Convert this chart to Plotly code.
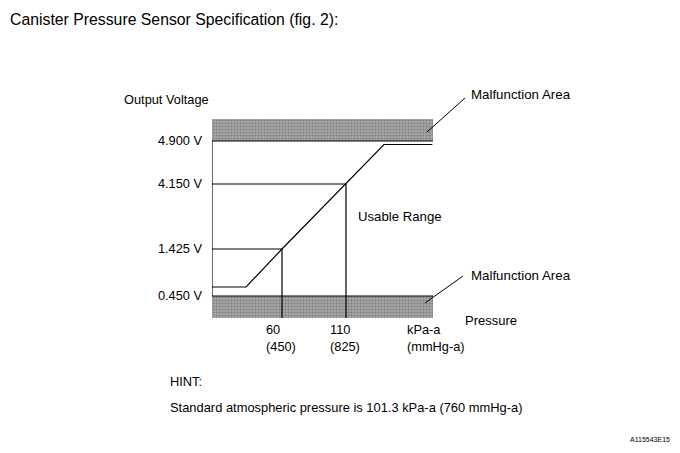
import plotly.graph_objects as go

# ---------------- data ----------------
# y axis of the original is schematic (not to scale): each voltage has a diagram level
voltage_labels = ["0.450 V", "1.425 V", "4.150 V", "4.900 V"]
voltage_levels = [22, 69, 134, 177]          # schematic level of each labelled voltage
band_low = [0, 22]                           # lower malfunction area (levels)
band_high = [177, 199]                       # upper malfunction area (levels)

pressure_range = [5.3, 178]                  # kPa-a, extent of the diagram
curve_pressure = [5.3, 31.9, 60, 110, 139.7, 177.5]   # kPa-a
curve_level = [31, 31, 69, 134, 173.5, 173.5]         # schematic level

marked_pressure_kpa = [60, 110]
marked_pressure_mmhg = ["(450)", "(825)"]
marked_voltage_idx = [1, 2]                  # 60 kPa -> 1.425 V, 110 kPa -> 4.150 V

FONT = "Liberation Sans, Arial, sans-serif"
OFF = 8                                      # page body margin of the html page
W, H = 680 - OFF, 453 - OFF
L, R, T, B = 212 - OFF, 247, 119 - OFF, 135
PW, PH = W - L - R, H - T - B


def px(x):
    return (x - OFF - L) / PW


def py(y):
    return (H - B - (y - OFF)) / PH


fig = go.Figure()

# malfunction bands
for band in (band_low, band_high):
    fig.add_trace(go.Scatter(
        x=[pressure_range[0], pressure_range[1], pressure_range[1], pressure_range[0], pressure_range[0]],
        y=[band[0], band[0], band[1], band[1], band[0]],
        mode="none", fill="toself", fillcolor="#a0a0a0",
        fillpattern=dict(shape=".", bgcolor="#a6a6a6", fgcolor="#555555", size=3, solidity=0.4),
        hoverinfo="skip", showlegend=False))

line_style = dict(color="black", width=1.2)

# band inner edges
for lvl in (band_low[1], band_high[0]):
    fig.add_trace(go.Scatter(x=pressure_range, y=[lvl, lvl], mode="lines",
                             line=line_style, hoverinfo="skip", showlegend=False))

# left axis
fig.add_trace(go.Scatter(x=[pressure_range[0], pressure_range[0]], y=[band_low[1], band_high[0]],
                         mode="lines", line=line_style, hoverinfo="skip", showlegend=False))

# reference lines for marked points
for p, vi in zip(marked_pressure_kpa, marked_voltage_idx):
    lvl = voltage_levels[vi]
    fig.add_trace(go.Scatter(x=[pressure_range[0], p, p], y=[lvl, lvl, band_low[0]],
                             mode="lines", line=line_style, hoverinfo="skip", showlegend=False))

# sensor curve
fig.add_trace(go.Scatter(x=curve_pressure, y=curve_level, mode="lines",
                         line=line_style, hoverinfo="skip", showlegend=False))

ann = []


def text(x, y, s, size=12.8, xanchor="left", xref="paper", yref="paper", xshift=0, align="left"):
    ann.append(dict(x=x, y=y, xref=xref, yref=yref, text=s, showarrow=False,
                    xanchor=xanchor, yanchor="middle", xshift=xshift, align=align,
                    font=dict(family=FONT, size=size, color="black")))


text(px(8), py(19), "Canister Pressure Sensor Specification (fig. 2):", size=15.8)
text(px(122), py(99), "Output Voltage")
text(px(469), py(95), "Malfunction Area", size=13.3)
text(px(469), py(275), "Malfunction Area", size=13.3)
text(px(400), py(216), "Usable Range", xanchor="center", size=13.2)
text(px(463), py(320), "Pressure", size=13)

for p, mm in zip(marked_pressure_kpa, marked_pressure_mmhg):
    ann.append(dict(x=p, y=py(338), xref="x", yref="paper", text=f"{p}<br>{mm}",
                    showarrow=False, xanchor="left", yanchor="middle", xshift=-18, align="left",
                    font=dict(family=FONT, size=12.8, color="black")))
text(px(405), py(338), "kPa-a<br>(mmHg-a)")

text(px(168), py(381), "HINT:")
text(px(168), py(407), "Standard atmospheric pressure is 101.3 kPa-a (760 mmHg-a)", size=12.9)
text(px(672), py(439), "A115543E15", size=7, xanchor="right")

shapes = [
    dict(type="line", xref="paper", yref="paper", x0=px(427), y0=py(132), x1=px(465), y1=py(98),
         line=dict(color="black", width=1)),
    dict(type="line", xref="paper", yref="paper", x0=px(425), y0=py(303), x1=px(463), y1=py(276),
         line=dict(color="black", width=1)),
]

fig.update_layout(
    width=W, height=H,
    margin=dict(l=L, r=R, t=T, b=B, pad=0),
    paper_bgcolor="white", plot_bgcolor="white",
    xaxis=dict(range=pressure_range, showgrid=False, zeroline=False, showline=False,
               showticklabels=False, ticks=""),
    yaxis=dict(range=[band_low[0], band_high[1]], showgrid=False, zeroline=False, showline=False,
               tickvals=voltage_levels, ticktext=voltage_labels, ticks="",
               ticklabelstandoff=9,
               tickfont=dict(family=FONT, size=12.8, color="black")),
    annotations=ann, shapes=shapes,
    showlegend=False,
)

fig.write_html("out.html")
